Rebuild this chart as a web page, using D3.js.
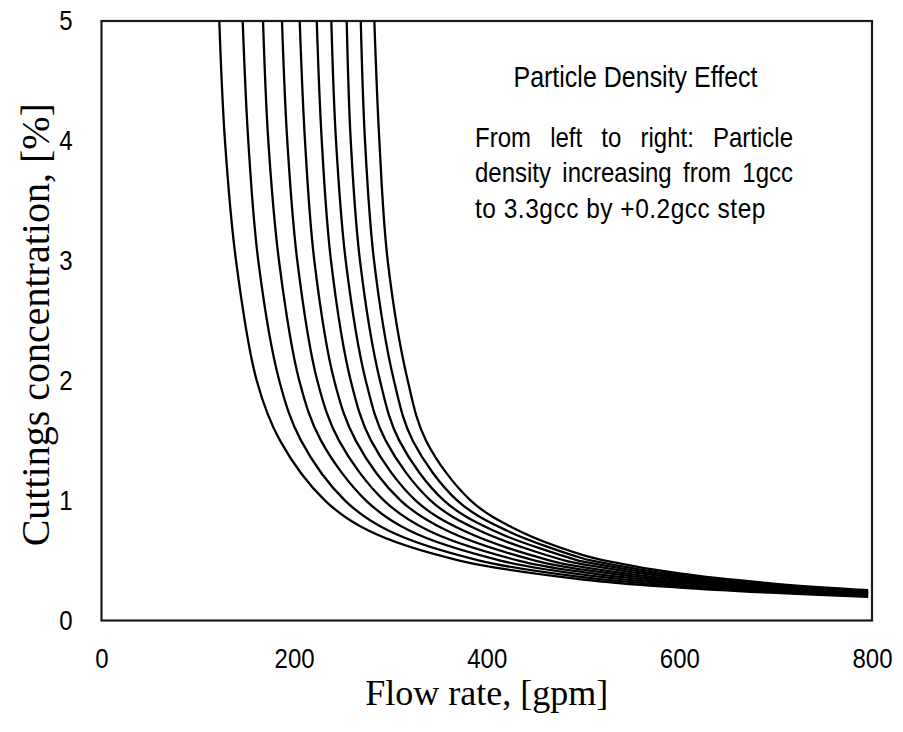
<!DOCTYPE html>
<html>
<head>
<meta charset="utf-8">
<script src="https://cdn.jsdelivr.net/npm/d3@7"></script>
<style>
  html, body { margin: 0; padding: 0; background: #fff; }
  svg { display: block; }
</style>
</head>
<body>
<svg id="chart" width="903" height="732"></svg>
<script>
// ---- data ----
const flowTicks = [0, 200, 400, 600, 800];
const concTicks = [0, 1, 2, 3, 4, 5];
const densities = [1.0, 1.2, 1.4, 1.6, 1.8, 2.0, 2.2, 2.4, 2.6, 2.8];
// concentration levels at which each curve's flow rate was read
const concLevels = [5, 4, 3, 2, 1.5, 1, 0.75, 0.5];
const flowAtLevel = [
  [122.3, 128.2, 139.7, 161.2, 185.4, 232.1, 277.1, 371.6],
  [146.6, 152.4, 162.8, 184.6, 207.2, 252.9, 297.8, 392.4],
  [167.7, 173.2, 184.3, 205.4, 227.9, 274.7, 319.6, 414.2],
  [187.4, 192.9, 203.3, 224.1, 246.6, 293.4, 339.4, 432.9],
  [205.8, 211.3, 221.0, 241.7, 264.0, 310.7, 358.5, 450.2],
  [223.5, 228.7, 238.3, 258.8, 279.9, 326.3, 375.7, 465.8],
  [238.6, 243.5, 253.6, 274.4, 295.1, 341.8, 392.3, 481.3],
  [254.6, 258.8, 268.4, 289.2, 309.2, 355.7, 406.8, 495.2],
  [269.2, 273.6, 283.0, 303.7, 323.2, 369.5, 420.8, 509.0],
  [283.3, 288.5, 297.2, 318.0, 337.0, 383.4, 432.8, 522.9]
];
// flow rates at which each curve's concentration was read (tail)
const tailFlows = [500, 600, 700, 796];
const tailConc = [
  [0.342, 0.275, 0.230, 0.198],
  [0.361, 0.287, 0.238, 0.204],
  [0.382, 0.300, 0.247, 0.211],
  [0.403, 0.313, 0.255, 0.217],
  [0.424, 0.325, 0.264, 0.223],
  [0.445, 0.338, 0.272, 0.229],
  [0.469, 0.351, 0.280, 0.235],
  [0.492, 0.363, 0.288, 0.241],
  [0.517, 0.377, 0.297, 0.246],
  [0.545, 0.392, 0.306, 0.253]
];
const noteTitle = "Particle Density Effect";
const noteLines = [
  "From left to right: Particle",
  "density increasing from 1gcc",
  "to 3.3gcc by +0.2gcc step"
];
const xTitle = "Flow rate, [gpm]";
const yTitle = "Cuttings concentration, [%]";

// ---- layout ----
const svg = d3.select("#chart");
const L = 101.5, R = 872, T = 21, B = 620.5;
const SY = 1.15; // vertical stretch of the glyphs in the reference

const x = d3.scaleLinear().domain([0, 800]).range([L, R]);
const y = d3.scaleLinear().domain([0, 5]).range([B, T]);

svg.append("defs").append("clipPath").attr("id", "plotclip")
  .append("rect").attr("x", L).attr("y", T - 1).attr("width", R - L).attr("height", B - T + 1);

// curves
const series = densities.map((d, i) => {
  const pts = concLevels.map((c, j) => ({ q: flowAtLevel[i][j], c: c }))
    .concat(tailFlows.map((q, j) => ({ q: q, c: tailConc[i][j] })));
  pts.sort((a, b) => a.q - b.q);
  return { density: d, pts: pts };
});

const line = d3.line()
  .x(d => x(d.q))
  .y(d => y(d.c))
  .curve(d3.curveCatmullRom.alpha(0.5));

svg.append("g").attr("clip-path", "url(#plotclip)")
  .selectAll("path").data(series).join("path")
  .attr("d", d => line(d.pts))
  .attr("fill", "none")
  .attr("stroke", "#000")
  .attr("stroke-width", 2.3);

// frame
svg.append("rect")
  .attr("x", L).attr("y", T).attr("width", R - L).attr("height", B - T)
  .attr("fill", "none").attr("stroke", "#1a1a1a").attr("stroke-width", 2.2);

// axes
const sans = "'Liberation Sans', Arial, sans-serif";
const xAxis = svg.append("g").attr("transform", `translate(0,${B})`)
  .call(d3.axisBottom(x).tickValues(flowTicks).tickSize(0).tickFormat(d3.format("d")));
const yAxis = svg.append("g").attr("transform", `translate(${L},0)`)
  .call(d3.axisLeft(y).tickValues(concTicks).tickSize(0).tickPadding(29).tickFormat(d3.format("d")));
[xAxis, yAxis].forEach(g => {
  g.select(".domain").remove();
  g.selectAll("text").attr("font-family", sans).attr("font-size", 24).attr("fill", "#000");
});
xAxis.selectAll("text").attr("y", 0).attr("dy", 0)
  .attr("transform", `translate(0,47) scale(1,${SY})`);
yAxis.selectAll("text").attr("transform", `scale(1,${SY})`);

// axis titles
const serif = "'Liberation Serif', 'Times New Roman', serif";
svg.append("text")
  .attr("x", (L + R) / 2).attr("y", 705)
  .attr("text-anchor", "middle")
  .attr("font-family", serif).attr("font-size", 36).attr("fill", "#000")
  .text(xTitle);
svg.append("text")
  .attr("transform", `translate(49,${(T + B) / 2 + 4}) rotate(-90)`)
  .attr("text-anchor", "middle")
  .attr("font-family", serif).attr("font-size", 40).attr("fill", "#000")
  .text(yTitle);

// annotation
const note = svg.append("g").attr("font-family", sans).attr("fill", "#000");
function textAt(px, py, size) {
  return note.append("g").attr("transform", `translate(${px},${py}) scale(1,${SY})`)
    .append("text").attr("x", 0).attr("y", 0).attr("font-size", size);
}
textAt(635.5, 87, 25).attr("text-anchor", "middle").text(noteTitle);

const boxL = 475, boxR = 793;
const baselines = [147, 182, 218];
noteLines.forEach((ln, i) => {
  const isLast = i === noteLines.length - 1;
  if (isLast) {
    textAt(boxL, baselines[i], 24.5).attr("letter-spacing", 0.5).text(ln);
    return;
  }
  const words = ln.split(" ");
  const grp = note.append("g").attr("transform", `translate(0,${baselines[i]}) scale(1,${SY})`);
  const nodes = words.map(w => grp.append("text").attr("y", 0).attr("font-size", 24).text(w));
  const widths = nodes.map(n => n.node().getComputedTextLength());
  const total = d3.sum(widths);
  const gap = (boxR - boxL - total) / (words.length - 1);
  let cx = boxL;
  nodes.forEach((n, k) => { n.attr("x", cx); cx += widths[k] + gap; });
});
</script>
</body>
</html>
